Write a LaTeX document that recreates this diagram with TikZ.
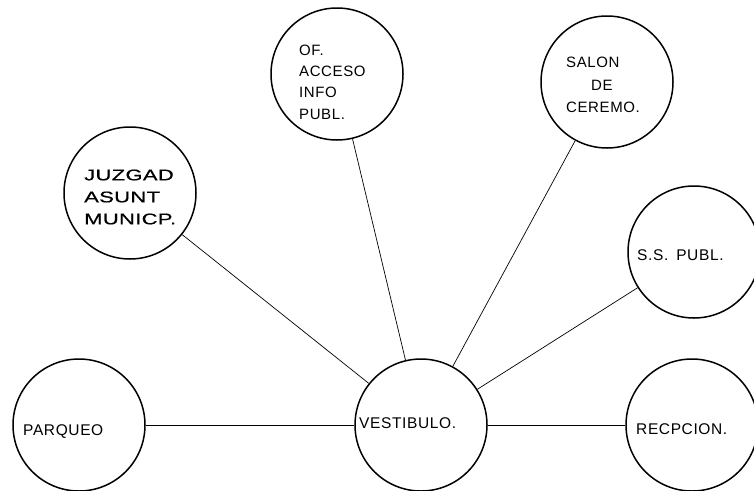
\documentclass[tikz,border=0pt]{standalone}
\usepackage{fontspec}
\setmainfont{Liberation Sans}[LetterSpace=4]
\newfontfamily\juzfont{Liberation Sans}[FakeStretch=1.42,FakeBold=0.6,LetterSpace=2]
\begin{document}
\begin{tikzpicture}[x=1pt,y=-1pt,
  room/.style={circle,draw=black,line width=1.5pt,minimum size=132pt,inner sep=0pt},
  conn/.style={draw=black,line width=0.7pt},
  hconn/.style={draw=black,line width=1pt},
  lbl/.style={anchor=west,inner sep=0pt,font=\fontsize{15.5}{22}\selectfont,align=left}]
\useasboundingbox (0,0) rectangle (754,490);
\clip (0,0) rectangle (754,490);
\node[room] (juz) at (130,193) {};
\node[room] (ofa) at (337,74) {};
\node[room] (sal) at (607,82) {};
\node[room] (ssp) at (694,252) {};
\node[room] (par) at (79,425) {};
\node[room] (ves) at (421,425) {};
\node[room] (rec) at (692,425) {};
\draw[conn] (juz) -- (ves);
\draw[conn] (ofa) -- (ves);
\draw[conn] (sal) -- (ves);
\draw[conn] (ssp) -- (ves);
\draw[hconn] (par) -- (ves);
\draw[hconn] (ves) -- (rec);
\node[lbl,font=\juzfont\fontsize{15.5}{22}\selectfont] (tjuz) at (84,197) {JUZGAD\\ASUNT\\MUNICP.};
\node[lbl,font=\fontsize{15}{21.3}\selectfont] (tofa) at (299,82) {OF.\\ACCESO\\INFO\\PUBL.};
\node[lbl,font=\fontsize{15}{22.5}\selectfont] (tsal) at (566,85) {SALON\\\hspace*{25pt}DE\\CEREMO.};
\node[lbl] (tssp) at (637,255) {S.S.\hspace{3pt} PUBL.};
\node[lbl] (tpar) at (23,432) {PARQUEO};
\node[lbl] (tves) at (359,423) {VESTIBULO.};
\node[lbl] (trec) at (636,429) {RECPCION.};
\end{tikzpicture}
\end{document}
